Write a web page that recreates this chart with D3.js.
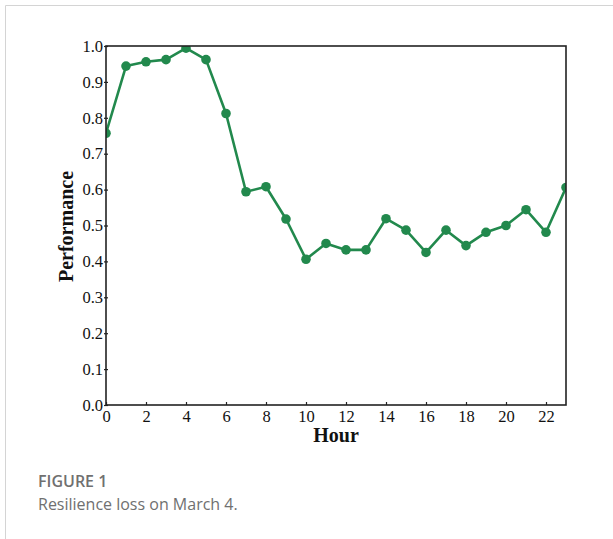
<!DOCTYPE html>
<html><head><meta charset="utf-8">
<script src="https://cdn.jsdelivr.net/npm/d3@7"></script>
<style>
html,body{margin:0;padding:0;background:#fff;}
svg{display:block;}
</style></head>
<body>
<svg id="chart" width="613" height="539"></svg>
<script>
const hours = [0,1,2,3,4,5,6,7,8,9,10,11,12,13,14,15,16,17,18,19,20,21,22,23];
const performance = [0.757,0.944,0.956,0.962,0.994,0.962,0.812,0.594,0.608,0.518,0.406,0.450,0.432,0.432,0.519,0.487,0.425,0.487,0.444,0.481,0.500,0.544,0.481,0.606];
const xTicks = [0,2,4,6,8,10,12,14,16,18,20,22];
const yTicks = [0,0.1,0.2,0.3,0.4,0.5,0.6,0.7,0.8,0.9,1.0];
const captionTitle = "FIGURE 1";
const captionText = "Resilience loss on March 4.";

const svg = d3.select("#chart");
const W = 613, H = 539;
const m = {left:106, right:566, top:46, bottom:405};
const green = "#22894d";

// frame lines
svg.append("line").attr("x1",5.5).attr("x2",W).attr("y1",5.5).attr("y2",5.5).attr("stroke","#d4d4d4").attr("stroke-width",1);
svg.append("line").attr("x1",5.5).attr("x2",5.5).attr("y1",5.5).attr("y2",H).attr("stroke","#d4d4d4").attr("stroke-width",1);

const x = d3.scaleLinear().domain([0,23]).range([m.left,m.right]);
const y = d3.scaleLinear().domain([0,1]).range([m.bottom,m.top]);

const serif = "'Liberation Serif','Times New Roman',serif";

// clip
svg.append("defs").append("clipPath").attr("id","clip").append("rect")
  .attr("x",m.left).attr("y",m.top).attr("width",m.right-m.left).attr("height",m.bottom-m.top);

// line + points
const g = svg.append("g").attr("clip-path","url(#clip)");
g.append("path").datum(hours.map((h,i)=>[h,performance[i]]))
  .attr("fill","none").attr("stroke",green).attr("stroke-width",2.6)
  .attr("stroke-linejoin","round")
  .attr("d", d3.line().x(d=>x(d[0])).y(d=>y(d[1])));
g.selectAll("circle").data(hours).join("circle")
  .attr("cx",d=>x(d)).attr("cy",(d,i)=>y(performance[i])).attr("r",4.8).attr("fill",green);

// border box
svg.append("rect").attr("x",m.left).attr("y",m.top).attr("width",m.right-m.left).attr("height",m.bottom-m.top)
  .attr("fill","none").attr("stroke","#222").attr("stroke-width",1.6);

// x axis
const xAxis = svg.append("g").attr("transform",`translate(0,${m.bottom})`)
  .call(d3.axisBottom(x).tickValues(xTicks).tickFormat(d3.format("d")).tickSizeInner(-3).tickSizeOuter(0).tickPadding(5));
xAxis.select(".domain").remove();
xAxis.selectAll(".tick line").attr("stroke","#222").attr("stroke-width",1.2);
xAxis.selectAll("text").attr("font-family",serif).attr("font-size",16.5).attr("fill","#111");

// y axis
const yAxis = svg.append("g").attr("transform",`translate(${m.left},0)`)
  .call(d3.axisLeft(y).tickValues(yTicks).tickFormat(d3.format(".1f")).tickSizeInner(2).tickSizeOuter(0).tickPadding(1));
yAxis.select(".domain").remove();
yAxis.selectAll(".tick line").attr("x2",2).attr("x1",-2).attr("stroke","#222").attr("stroke-width",1.2);
yAxis.selectAll("text").attr("font-family",serif).attr("font-size",16.5).attr("fill","#111").attr("x",-3);

// axis titles
svg.append("text").attr("x",(m.left+m.right)/2).attr("y",442).attr("text-anchor","middle")
  .attr("font-family",serif).attr("font-weight","bold").attr("font-size",20).attr("fill","#111").text("Hour");
svg.append("text").attr("transform",`translate(73,${(m.top+m.bottom)/2+1}) rotate(-90)`).attr("text-anchor","middle")
  .attr("font-family",serif).attr("font-weight","bold").attr("font-size",20).attr("fill","#111").text("Performance");

// caption
const sans = "'Open Sans','Noto Sans',sans-serif";
svg.append("text").attr("x",38).attr("y",487).attr("font-family",sans).attr("font-size",16).attr("font-weight",600)
  .attr("fill","#707070").text(captionTitle);
svg.append("text").attr("x",38).attr("y",510).attr("font-family",sans).attr("font-size",16)
  .attr("fill","#707070").text(captionText);
</script>
</body></html>
